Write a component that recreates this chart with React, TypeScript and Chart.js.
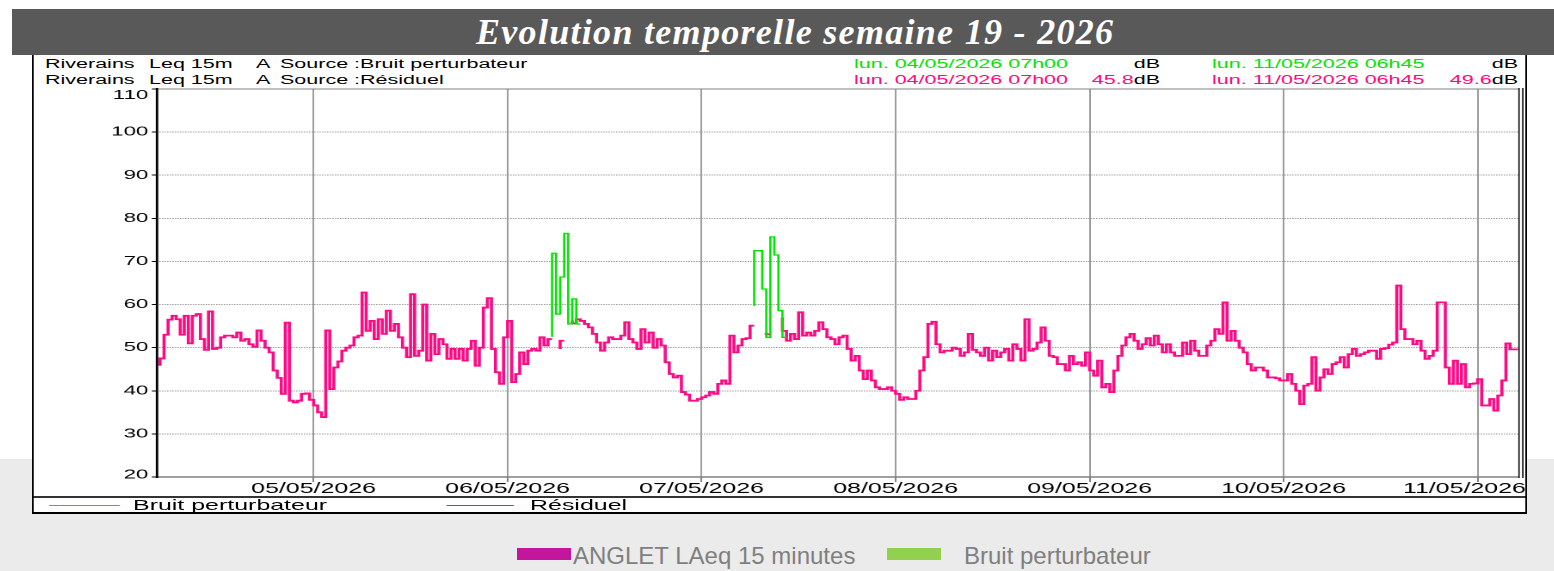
import React, { useEffect, useRef } from 'react';
import { Chart, registerables } from 'chart.js';

Chart.register(...registerables);

// ---------------- data ----------------
// One value per 30 minutes, starting lun. 04/05/2026 07h00 (x axis in hours from start)
const SLOT_HOURS = 0.5;
const SPAN_HOURS = 168;

const residuelJour1 = [
  45.8, 47.5, 53, 56.5, 57.4, 56.6, 53, 57.4, 51, 57.4, 57.8, 52,
  49.5, 58.4, 49.7, 50, 52.4, 52.8, 52.8, 52.4, 53.5, 51.6, 52, 50.8,
  50.2, 54, 51.6, 50, 48.9, 44.7, 43, 39.3, 55.8, 37.7, 37.3, 37.7,
  39.3, 39.4, 37.9, 36.6, 35, 33.9, 54, 40.4, 45.4, 46.8, 49.3, 50,
];
const residuelJour2 = [
  50.5, 52.4, 52.8, 62.8, 53.9, 56.2, 52, 56.6, 53.2, 58.6, 53.9, 55.5,
  52.4, 50, 47.8, 62.4, 48.1, 49.3, 60, 47, 53.2, 48.5, 52, 50.8,
  47.4, 49.7, 47.4, 49.7, 47, 49.7, 51.6, 45.8, 50, 59.3, 61.5, 49.7,
  44.3, 41.6, 52.4, 56.2, 42, 43.9, 48.9, 46.2, 49.3, 49.7, 49.3, 52.4,
];
const residuelJour3 = [
  50.5, 52, null, 49.7, 51.6, null, 56.3, 55.6, 56.6, 56.2, 55.5, 54.7,
  53.2, 51.2, 49.3, 51.2, 52.4, 52, 52, 52.8, 55.9, 52, 51.2, 49.7,
  54.3, 51.2, 53.5, 50, 52, 50.5, 46.6, 43.9, 43.1, 43.5, 39.7, 39.1,
  37.7, 37.7, 38.1, 38.5, 38.9, 39.7, 39.3, 41.6, 42.4, 41.6, 52.8, 48.9,
];
const residuelJour4 = [
  50.5, 52, 52.2, 55.1, null, null, 53.5, 53.1, null, null, 57, 53.9,
  51.6, 53.2, 52, 58.2, 52.8, 53.5, 52.8, 53.9, 55.9, 54.3, 52.4, 52,
  50.8, 52.4, 52.8, 49.7, 47, 48.1, 44.7, 42.7, 44.7, 42.4, 40.8, 40.4,
  40.4, 40.8, 40, 39.3, 37.9, 38.5, 38.1, 38.1, 40, 44.7, 47.8, 55.5,
];
const residuelJour5 = [
  56, 50.8, 48.9, 49.3, 49.3, 50, 49.7, 48.1, 48.9, 53.2, 49.5, 48.9,
  48.1, 50, 47, 49.3, 47.8, 48.9, 49.7, 47, 50.8, 49.7, 47, 56.6,
  49.3, 49.7, 51.2, 54.7, 51.6, 48.1, 47.8, 46.2, 46.2, 44.7, 48.1, 46.2,
  46.6, 45.8, 48.9, 44.7, 43.5, 47, 40.8, 41.6, 39.7, 44.7, 48.1, 50.5,
];
const residuelJour6 = [
  52.4, 53.2, 51.6, 49.7, 50.8, 52.2, 50.5, 52.8, 50.8, 48.9, 50.8, 48.9,
  48.1, 48.1, 51.2, 48.5, 51.6, 49.3, 48.1, 48.1, 50.5, 51.6, 54.3, 53.2,
  60.5, 51.6, 53.9, 51.6, 50, 48.9, 46.2, 44.7, 45.4, 45.4, 44.7, 43.1,
  43.1, 42.9, 42.4, 42.4, 43.9, 41.6, 40, 36.9, 41.2, 41.6, 47.8, 40,
];
const residuelJour7 = [
  43.1, 45, 43.9, 46.2, 46.6, 47.8, 45.4, 48.5, 49.7, 48.1, 48.5, 48.9,
  49.3, 49.3, 47.4, 49.7, 49.9, 50.7, 51.2, 64.4, 54.3, 52, 52, 50.8,
  51.6, 49.3, 47.4, 48.1, 49.3, 60.5, 60.5, 45.4, 41.6, 47, 41.6, 46.2,
  40.8, 41.6, 41.7, 42.7, 36.6, 36.6, 38.1, 35.4, 38.9, 42.4, 51, 49.6,
];

// Bruit perturbateur: two bursts (slot index of first value, then values)
const bruitSalve1Debut = 97;
const bruitSalve1 = [52.5, 71.9, 57.8, 66.4, 76.5, 55.5, 61.3, 55.5];
const bruitSalve2Debut = 147;
const bruitSalve2 = [59.7, 72.5, 72.5, 63.6, 52.4, 75.7, 71.5, 58.6, 52.4];

const xTickHours = [19, 43, 67, 91, 115, 139, 163];
const xTickLabels = ['05/05/2026', '06/05/2026', '07/05/2026', '08/05/2026', '09/05/2026', '10/05/2026', '11/05/2026'];
const yTicks = [20, 30, 40, 50, 60, 70, 80, 90, 100, 110];

// ---------------- layout helpers ----------------
const K = 1495 / 869; // the embedded chart picture is stretched horizontally
const BOX_LEFT = 32;
const BOX_TOP = 55;
const BOX_W = 869;
const ix = (pageX: number) => (pageX - BOX_LEFT) / K;
const CANVAS_TOP = 79; // page y
const CANVAS_H = 419;

const PINK = '#ff0a84';
const GREEN = '#00e600';
const SANS = '"Liberation Sans", Arial, sans-serif';

function buildSeries() {
  const residuel: (number | null)[] = [
    ...residuelJour1, ...residuelJour2, ...residuelJour3, ...residuelJour4,
    ...residuelJour5, ...residuelJour6, ...residuelJour7,
  ];
  const resPts = residuel.map((v, i) => ({ x: i * SLOT_HOURS, y: v }));
  resPts.push({ x: SPAN_HOURS, y: residuel[residuel.length - 1] });
  const bruit: (number | null)[] = new Array(residuel.length + 1).fill(null);
  bruitSalve1.forEach((v, i) => { bruit[bruitSalve1Debut + i] = v; });
  bruitSalve2.forEach((v, i) => { bruit[bruitSalve2Debut + i] = v; });
  const brPts = bruit.map((v, i) => ({ x: i * SLOT_HOURS, y: v }));
  return { resPts, brPts };
}

const framePlugin = {
  id: 'frameAndLabels',
  afterDraw(chart: any) {
    const { ctx, chartArea: a } = chart;
    const line = (x1: number, y1: number, x2: number, y2: number) => {
      ctx.beginPath(); ctx.moveTo(x1, y1); ctx.lineTo(x2, y2); ctx.stroke();
    };
    ctx.save();
    ctx.strokeStyle = '#808080';
    ctx.lineWidth = 1;
    line(a.left, a.top, a.right, a.top);
    ctx.lineWidth = 1.5;
    line(a.left, a.bottom, a.right, a.bottom);
    ctx.strokeStyle = '#000';
    ctx.lineWidth = 1.4;
    line(a.left, a.top - 1, a.left, a.bottom + 1);
    ctx.lineWidth = 0.8;
    line(a.right, a.top - 1, a.right, a.bottom + 1);
    line(a.right + 2.2, a.top - 1, a.right + 2.2, a.bottom + 1);
    // x tick labels (last one kept inside the frame)
    const xs = chart.scales.x;
    ctx.font = `14.5px ${SANS}`;
    ctx.fillStyle = '#000';
    ctx.textAlign = 'center';
    ctx.textBaseline = 'middle';
    xTickHours.forEach((h, i) => {
      const label = xTickLabels[i];
      let px = xs.getPixelForValue(h);
      const w = ctx.measureText(label).width;
      const maxRight = a.right + 4;
      if (px + w / 2 > maxRight) px = maxRight - w / 2;
      ctx.fillText(label, px, a.bottom + 12);
    });
    // y tick labels (top one kept below the frame top)
    const ys = chart.scales.y;
    ctx.font = `13px ${SANS}`;
    ctx.textAlign = 'right';
    yTicks.forEach((v) => {
      let py = ys.getPixelForValue(v);
      py = Math.max(py, a.top + 6.5);
      py = Math.min(py, a.bottom - 2);
      ctx.fillText(String(v), a.left - 5, py);
    });
    ctx.restore();
  },
};

function PlotCanvas() {
  const ref = useRef<HTMLCanvasElement | null>(null);
  useEffect(() => {
    const canvas = ref.current;
    if (!canvas) return;
    const { resPts, brPts } = buildSeries();
    const chart = new Chart(canvas, {
      type: 'line',
      data: {
        datasets: [
          {
            label: 'Bruit perturbateur',
            data: brPts as any,
            borderColor: GREEN,
            borderWidth: 1.3,
            stepped: 'after',
            pointRadius: 0,
            spanGaps: false,
            order: 0,
          },
          {
            label: 'Résiduel',
            data: resPts as any,
            borderColor: PINK,
            borderWidth: 1.8,
            stepped: 'after',
            pointRadius: 0,
            spanGaps: false,
            order: 1,
          },
        ],
      },
      options: {
        animation: false,
        responsive: false,
        devicePixelRatio: 2,
        events: [],
        layout: {
          autoPadding: false,
          padding: { left: 0, right: BOX_W - ix(1519), top: 10, bottom: 0 },
        },
        plugins: { legend: { display: false }, tooltip: { enabled: false } },
        scales: {
          x: {
            type: 'linear',
            min: -0.37,
            max: 168.12,
            afterBuildTicks: (s: any) => { s.ticks = xTickHours.map((v) => ({ value: v })); },
            afterFit: (s: any) => { s.height = 21; },
            ticks: { display: false },
            grid: { color: '#858585', lineWidth: 0.8, drawTicks: true, tickLength: 5, tickColor: '#666' },
            border: { display: false },
          },
          y: {
            type: 'linear',
            min: 20,
            max: 110,
            afterBuildTicks: (s: any) => { s.ticks = yTicks.map((v) => ({ value: v })); },
            afterFit: (s: any) => { s.width = ix(157); },
            ticks: { display: false },
            grid: { color: '#9a9a9a', lineWidth: 1, drawTicks: true, tickLength: 3, tickColor: '#000' },
            border: { display: false, dash: [0.8, 0.7] },
          },
        },
      },
      plugins: [framePlugin],
    } as any);
    return () => chart.destroy();
  }, []);
  return (
    <canvas
      ref={ref}
      width={BOX_W}
      height={CANVAS_H}
      style={{ position: 'absolute', left: 0, top: CANVAS_TOP - BOX_TOP, width: BOX_W + 'px', height: CANVAS_H + 'px' }}
    />
  );
}

const abs = (o: React.CSSProperties): React.CSSProperties => ({ position: 'absolute', ...o });

function HeaderRow({ top, source, color, first, last }: { top: number; source: string; color: string; first: string | null; last: string | null }) {
  const t: React.CSSProperties = { fontFamily: SANS, fontSize: '12.5px', lineHeight: '14px', whiteSpace: 'nowrap', color: '#000' };
  return (
    <>
      <div style={abs({ ...t, left: ix(45), top })}>Riverains</div>
      <div style={abs({ ...t, left: ix(149), top })}>Leq 15m</div>
      <div style={abs({ ...t, left: ix(256), top })}>A</div>
      <div style={abs({ ...t, left: ix(280), top })}>{source}</div>
      <div style={abs({ ...t, left: ix(854), top, color })}>lun. 04/05/2026 07h00</div>
      <div style={abs({ ...t, right: BOX_W - ix(1160), top, textAlign: 'right' })}>
        {first && <span style={{ color }}>{first}</span>}dB
      </div>
      <div style={abs({ ...t, left: ix(1212), top, color })}>lun. 11/05/2026 06h45</div>
      <div style={abs({ ...t, right: BOX_W - ix(1518), top, textAlign: 'right' })}>
        {last && <span style={{ color }}>{last}</span>}dB
      </div>
    </>
  );
}

export default function App() {
  const legendText: React.CSSProperties = { fontFamily: SANS, fontSize: '24px', lineHeight: '24px', color: '#7f7f7f', whiteSpace: 'nowrap' };
  const innerLegend: React.CSSProperties = { fontFamily: SANS, fontSize: '14.5px', lineHeight: '16px', color: '#000', whiteSpace: 'nowrap' };
  return (
    <div style={abs({ left: 0, top: 0, width: 1554, height: 571, background: '#fff', overflow: 'hidden' })}>
      {/* grey page background at the bottom */}
      <div style={abs({ left: 0, top: 459, width: 1554, height: 112, background: '#ebebeb' })} />

      {/* title bar */}
      <div style={abs({ left: 12, top: 9, width: 1542, height: 46, background: '#595959' })}>
        <div
          style={abs({
            left: 464, top: 0, lineHeight: '46px', fontFamily: '"Liberation Serif", serif', fontSize: '36px',
            fontStyle: 'italic', fontWeight: 'bold', color: '#fff', letterSpacing: '1.3px', whiteSpace: 'nowrap',
          })}
        >
          Evolution temporelle semaine 19 - 2026
        </div>
      </div>

      {/* stretched chart picture */}
      <div
        style={abs({
          left: BOX_LEFT, top: BOX_TOP, width: BOX_W, height: 459, background: '#fff',
          transform: `scaleX(${K})`, transformOrigin: '0 0',
        })}
      >
        <HeaderRow top={64 - BOX_TOP - 7} source="Source :Bruit perturbateur" color={GREEN} first={null} last={null} />
        <HeaderRow top={80 - BOX_TOP - 7} source="Source :Résiduel" color={PINK} first="45.8" last="49.6" />

        <PlotCanvas />

        {/* separator & inner legend */}
        <div style={abs({ left: 0, top: 496 - BOX_TOP, width: BOX_W, height: 1.5, background: '#333' })} />
        <div style={abs({ left: ix(50), top: 505 - BOX_TOP, width: ix(119) - ix(50), height: 1, background: GREEN })} />
        <div style={abs({ ...innerLegend, left: ix(133), top: 505 - BOX_TOP - 8 })}>Bruit perturbateur</div>
        <div style={abs({ left: ix(446), top: 505 - BOX_TOP, width: ix(514) - ix(446), height: 1, background: PINK })} />
        <div style={abs({ ...innerLegend, left: ix(530), top: 505 - BOX_TOP - 8 })}>Résiduel</div>

        {/* box border */}
        <div
          style={abs({
            left: 0, top: 0, width: BOX_W, height: 459, boxSizing: 'border-box',
            borderLeft: '1.2px solid #000', borderRight: '1.2px solid #000', borderBottom: '2px solid #000',
            pointerEvents: 'none',
          })}
        />
      </div>

      {/* outer legend */}
      <div style={abs({ left: 517, top: 548, width: 54, height: 12, background: '#c4169c' })} />
      <div style={abs({ ...legendText, left: 573, top: 544 })}>ANGLET LAeq 15 minutes</div>
      <div style={abs({ left: 887, top: 548, width: 54, height: 12, background: '#92d050' })} />
      <div style={abs({ ...legendText, left: 964, top: 544 })}>Bruit perturbateur</div>
    </div>
  );
}
